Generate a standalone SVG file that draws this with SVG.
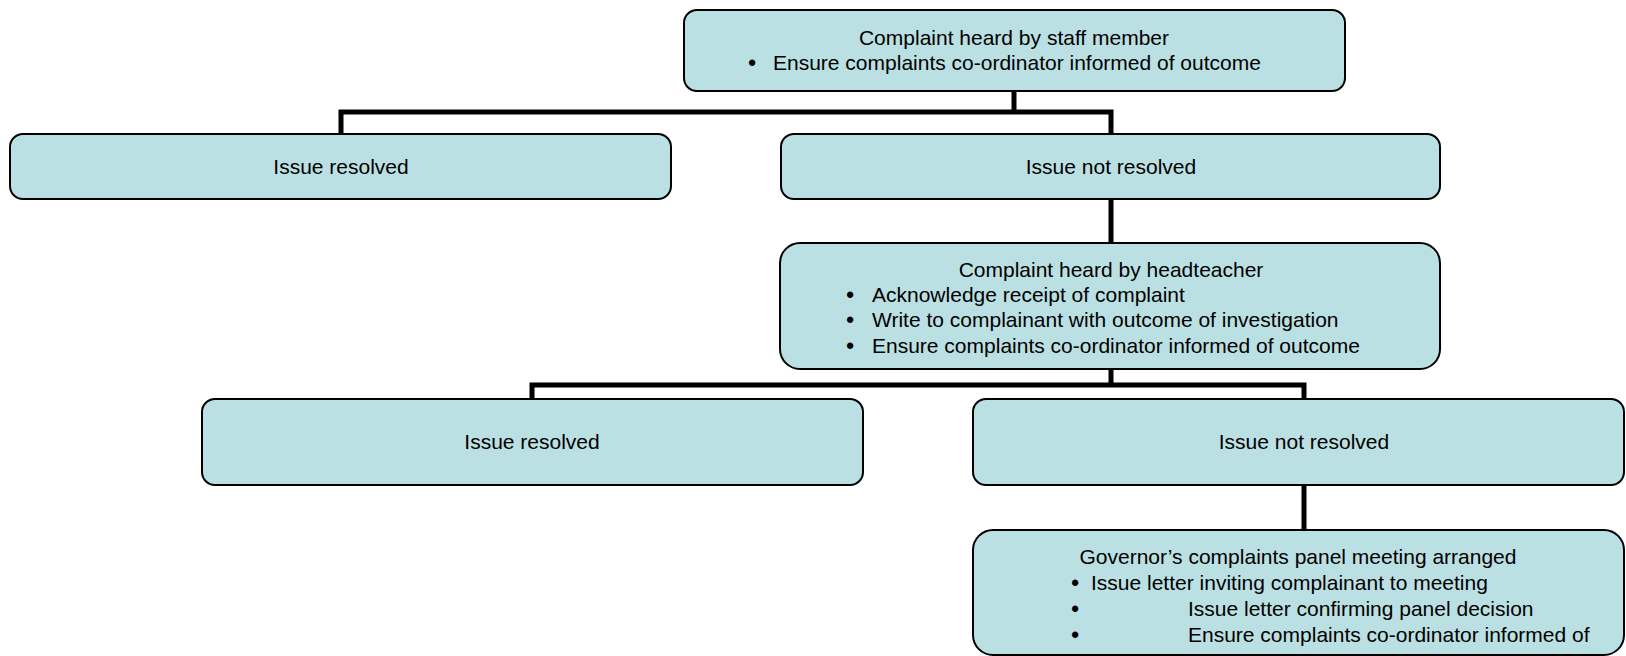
<svg xmlns="http://www.w3.org/2000/svg" width="1626" height="656" viewBox="0 0 1626 656">
<style>
.box{fill:#BBE0E3;stroke:#000;stroke-width:2}
.t{font-family:"Liberation Sans",Arial,sans-serif;font-size:21px;fill:#000}
.c{text-anchor:middle}
.b{font-family:"Liberation Sans",Arial,sans-serif;font-size:22px;font-weight:bold;fill:#000;text-anchor:middle}
.conn{fill:none;stroke:#000;stroke-width:5;stroke-linejoin:miter;stroke-linecap:butt}
</style>
<rect width="1626" height="656" fill="#fff"/>
<g id="connectors">
<path class="conn" d="M1014 91 V112 M341 134 V112 H1111 V134"/>
<path class="conn" d="M1111 199 V243"/>
<path class="conn" d="M1111 369 V385 M532 399 V385 H1304 V399"/>
<path class="conn" d="M1304 485 V530"/>
</g>
<g id="staff">
<rect class="box" x="684" y="10" width="661" height="81" rx="13"/>
<text class="t c" x="1014" y="45">Complaint heard by staff member</text>
<text class="b" x="752" y="70">•</text>
<text class="t" x="773" y="70">Ensure complaints co-ordinator informed of outcome</text>
</g>
<g id="resolved1">
<rect class="box" x="10" y="134" width="661" height="65" rx="13"/>
<text class="t c" x="341" y="174">Issue resolved</text>
</g>
<g id="notresolved1">
<rect class="box" x="781" y="134" width="659" height="65" rx="13"/>
<text class="t c" x="1111" y="174">Issue not resolved</text>
</g>
<g id="headteacher">
<rect class="box" x="780" y="243" width="660" height="126" rx="20"/>
<text class="t c" x="1111" y="277">Complaint heard by headteacher</text>
<text class="b" x="850" y="302">•</text>
<text class="t" x="872" y="302">Acknowledge receipt of complaint</text>
<text class="b" x="850" y="327">•</text>
<text class="t" x="872" y="327">Write to complainant with outcome of investigation</text>
<text class="b" x="850" y="353">•</text>
<text class="t" x="872" y="353">Ensure complaints co-ordinator informed of outcome</text>
</g>
<g id="resolved2">
<rect class="box" x="202" y="399" width="661" height="86" rx="13"/>
<text class="t c" x="532" y="449">Issue resolved</text>
</g>
<g id="notresolved2">
<rect class="box" x="973" y="399" width="651" height="86" rx="13"/>
<text class="t c" x="1304" y="449">Issue not resolved</text>
</g>
<g id="panel">
<rect class="box" x="973" y="530" width="651" height="125" rx="20"/>
<text class="t c" x="1298" y="564">Governor’s complaints panel meeting arranged</text>
<text class="b" x="1075" y="590">•</text>
<text class="t" x="1091" y="590">Issue letter inviting complainant to meeting</text>
<text class="b" x="1075" y="616">•</text>
<text class="t" x="1188" y="616">Issue letter confirming panel decision</text>
<text class="b" x="1075" y="642">•</text>
<text class="t" x="1188" y="642">Ensure complaints co-ordinator informed of</text>
</g>
</svg>
